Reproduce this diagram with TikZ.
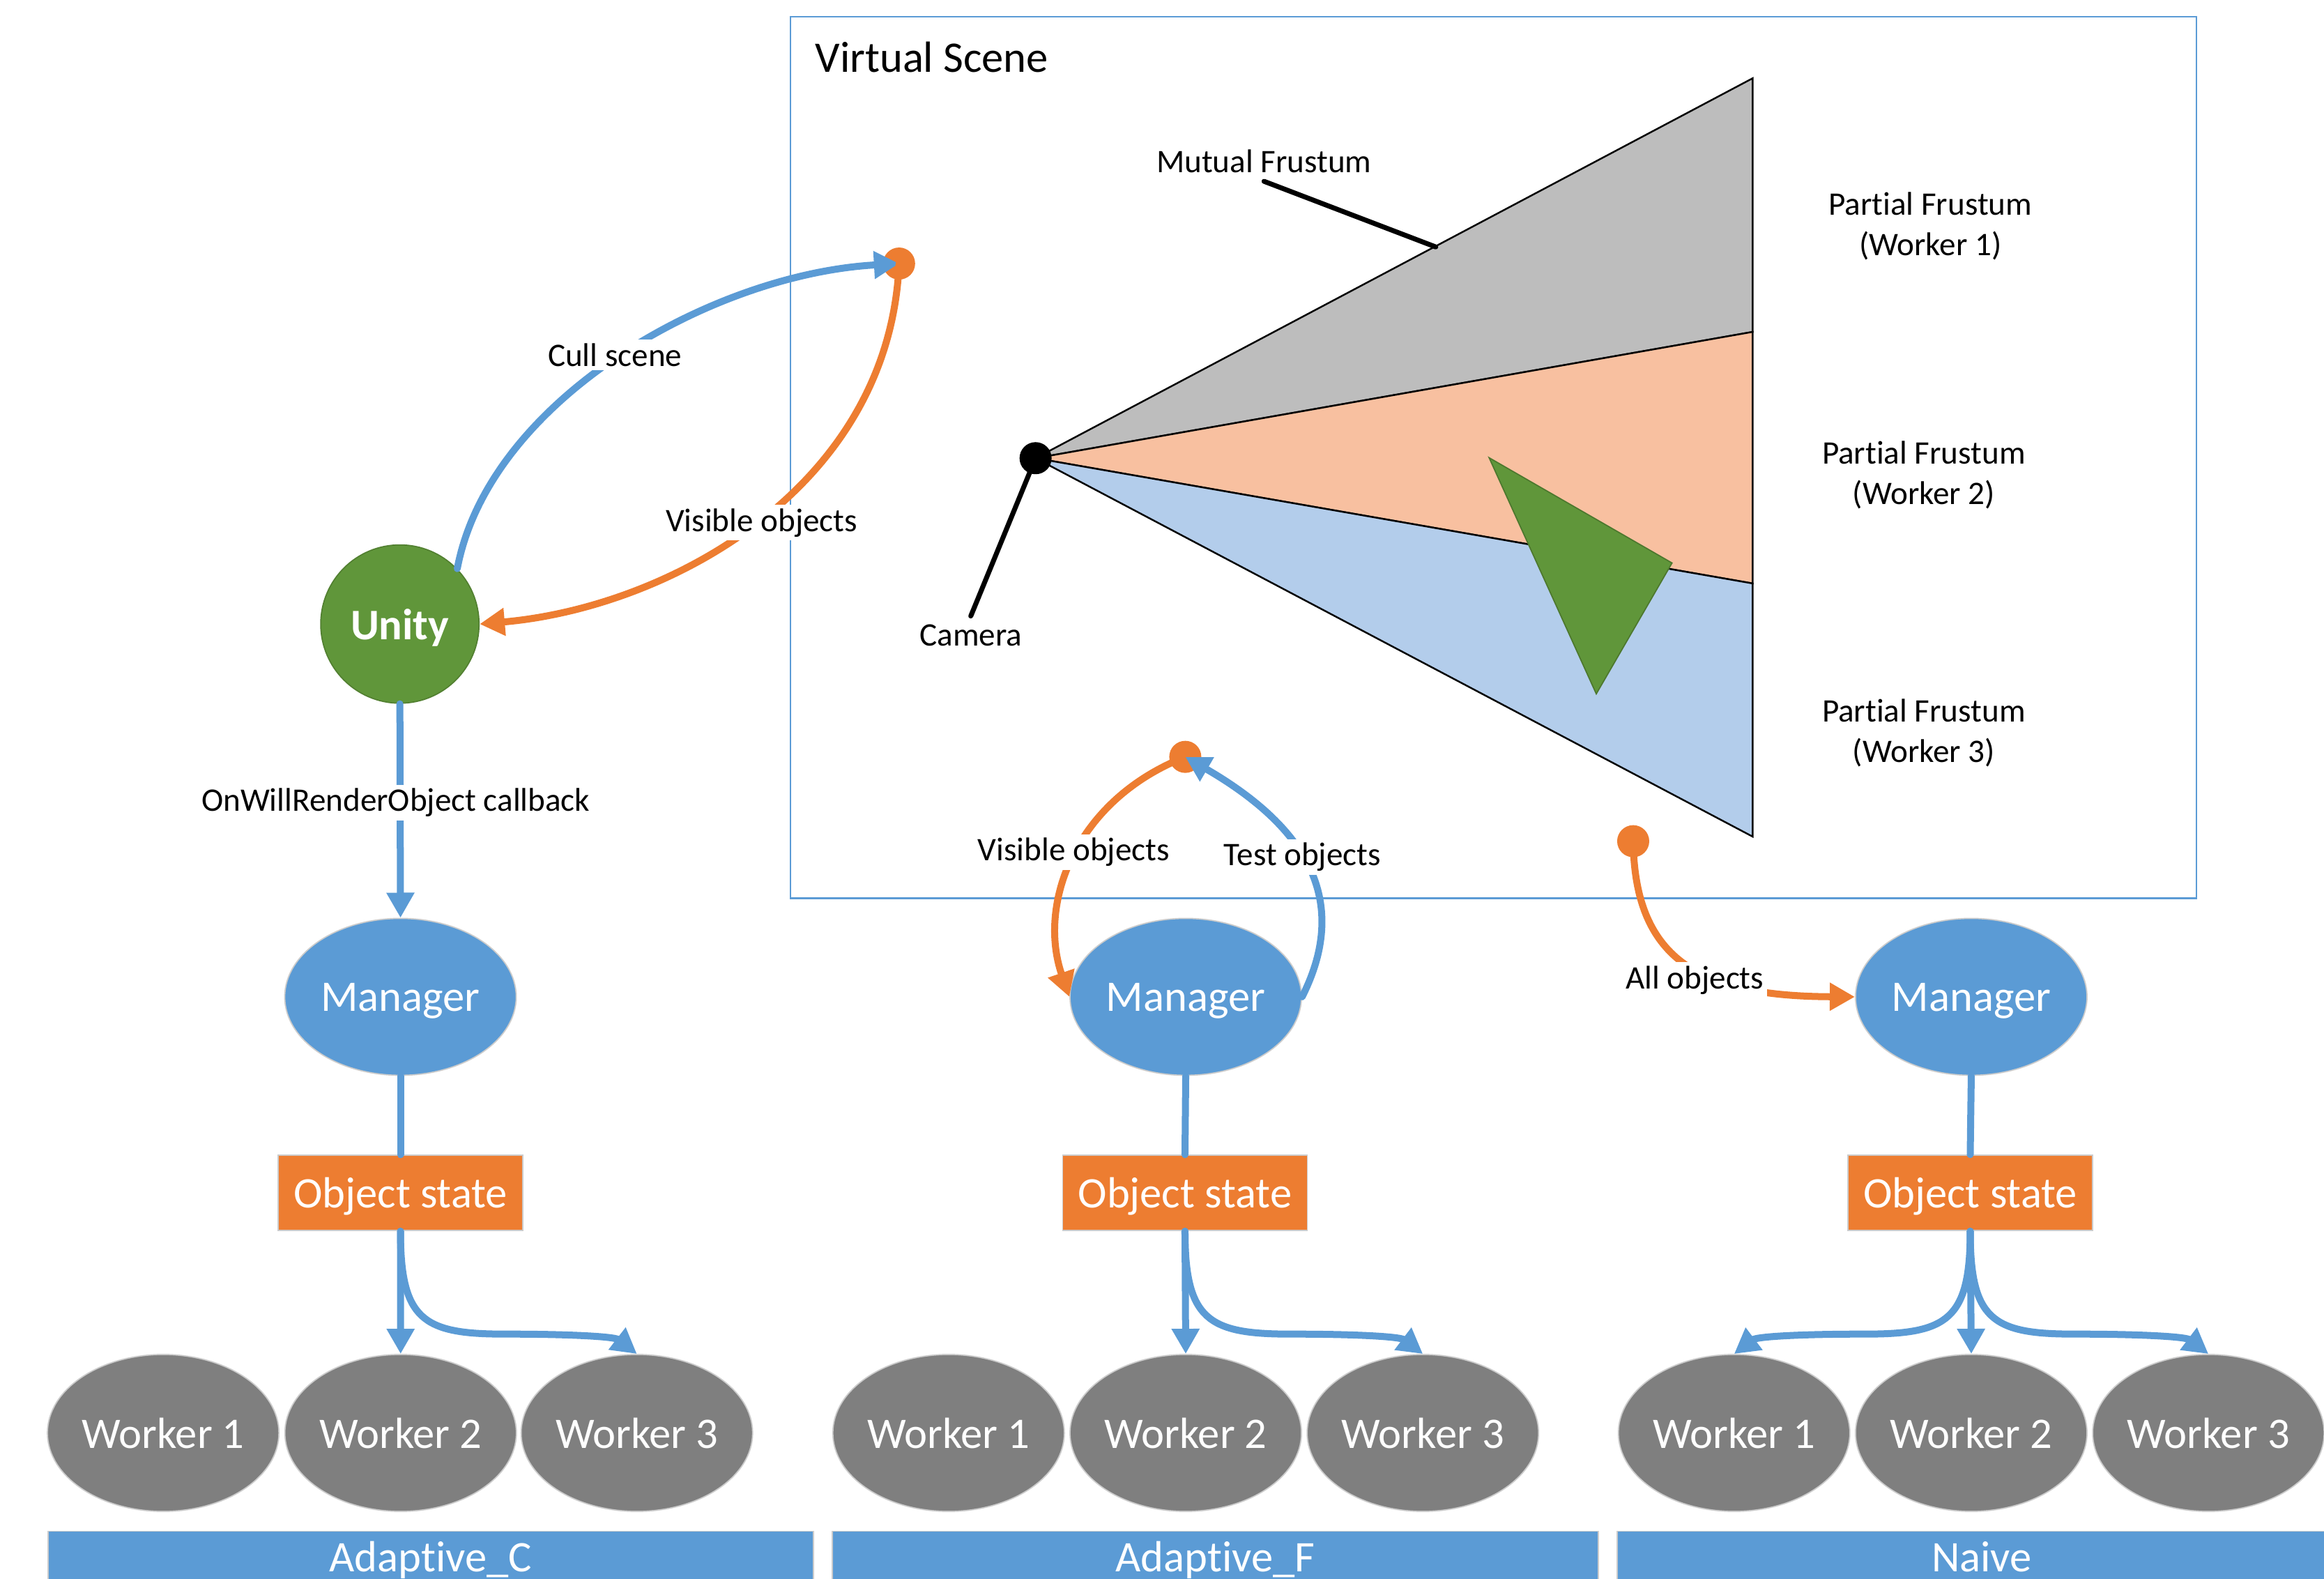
\documentclass[tikz,border=0pt]{standalone}
\usepackage{fontspec}
\setmainfont{Carlito}[Ligatures={NoCommon}]
\usetikzlibrary{shapes.geometric,arrows.meta}

\definecolor{msblue}{HTML}{5B9BD5}
\definecolor{msorange}{HTML}{ED7D31}
\definecolor{msgray}{HTML}{7F7F7F}
\definecolor{msgreen}{HTML}{60963A}
\definecolor{fgray}{HTML}{BDBDBD}
\definecolor{forange}{HTML}{F8C0A0}
\definecolor{fblue}{HTML}{B3CDEB}

\newcommand{\bigtext}{\fontsize{17.8}{21.4}\selectfont}
\newcommand{\smalltext}{\fontsize{13.4}{16.3}\selectfont}

\tikzset{
  manager/.style={ellipse, fill=msblue, draw=black!20, line width=0.5pt, text=white,
    font=\bigtext, minimum width=3.32cm, minimum height=2.25cm, inner sep=0pt, text depth=0pt},
  worker/.style={manager, fill=msgray},
  statebox/.style={rectangle, fill=msorange, draw=black!20, line width=0.5pt, text=white,
    font=\bigtext, minimum width=3.51cm, minimum height=1.08cm, inner sep=0pt, text depth=0pt},
  bar/.style={rectangle, fill=msblue, draw=black!20, line width=0.5pt, text=white,
    font=\bigtext, inner sep=0pt, text height=0.585cm, text depth=0.6cm, anchor=base},
  lbl/.style={font=\smalltext, fill=white, inner sep=1.5pt, anchor=base},
  flow/.style={draw=msblue, line width=0.1cm, line cap=round,
    -{Triangle[length=0.36cm,width=0.38cm]}},
  reply/.style={flow, draw=msorange},
  link/.style={draw=msblue, line width=0.1cm, line cap=round},
  leader/.style={line width=2pt, line cap=round},
  hit/.style={fill=msorange},
}

\begin{document}
\begin{tikzpicture}[x=0.021263cm, y=-0.021263cm]
    \useasboundingbox (0,0) rectangle (1568,1065);

    % Virtual scene box
    \draw[msblue, line width=0.6pt] (533.2,11.2) rectangle (1482,606);
    \node[font=\bigtext, anchor=base west, inner sep=0pt] (scene) at (549.7,48.9) {Virtual Scene};

    % Frustum split in three
    \coordinate (cam) at (698.7,309.1);
    \filldraw[fill=fgray, line width=0.7pt] (cam) -- (1182.5,52.8) -- (1182.5,223.9) -- cycle;
    \filldraw[fill=forange, line width=0.7pt] (cam) -- (1182.5,223.9) -- (1182.5,393.6) -- cycle;
    \filldraw[fill=fblue, line width=0.7pt] (cam) -- (1182.5,393.6) -- (1182.5,564.4) -- cycle;

    % Object in the scene
    \filldraw[fill=msgreen, draw=msgreen!80!black, line width=0.5pt]
        (1004.7,308.8) -- (1128.1,379.8) -- (1077,468.1) -- cycle;

    % Labels for frustum
    \node[font=\smalltext, anchor=base] (mutual) at (852.8,116.3) {Mutual Frustum};
    \coordinate (mutualtip) at (968.7,166.6);
    \draw[leader] (mutual.south) -- (mutualtip);
    \node[font=\smalltext, anchor=base] (camlbl) at (655,435.8) {Camera};
    \draw[leader] (cam) -- (camlbl.north);
    \fill (cam) circle (0.23cm);

    \node[font=\smalltext, align=center] (pf1) at (1302.4,152.6) {Partial Frustum\\(Worker 1)};
    \node[font=\smalltext, align=center] (pf2) at (1298,320.5) {Partial Frustum\\(Worker 2)};
    \node[font=\smalltext, align=center] (pf3) at (1298,494.5) {Partial Frustum\\(Worker 3)};

    % Hit points
    \coordinate (hitC) at (606.6,177.8);
    \coordinate (hitF) at (799.7,510.6);
    \coordinate (hitN) at (1101.9,567.5);
    \fill[hit] (hitC) circle (0.23cm);
    \fill[hit] (hitF) circle (0.23cm);
    \fill[hit] (hitN) circle (0.23cm);

    % Unity and managers
    \node[circle, fill=msgreen, draw=msgreen!85!black, line width=0.5pt, text=white, text depth=0pt,
        font=\bigtext\bfseries, minimum size=2.27cm, inner sep=0pt] (unity) at (269.8,421) {Unity};
    \node[manager] (mgrC) at (270.2,672.5) {Manager};
    \node[manager] (mgrF) at (800,672.5) {Manager};
    \node[manager] (mgrN) at (1330,672.5) {Manager};

    \node[statebox] (stateC) at (270.2,804.8) {Object state};
    \node[statebox] (stateF) at (799.5,804.8) {Object state};
    \node[statebox] (stateN) at (1329.3,804.8) {Object state};

    % Workers
    \node[worker] (wC1) at (110.1,966.7) {Worker 1};
    \node[worker] (wC2) at (270.3,966.7) {Worker 2};
    \node[worker] (wC3) at (429.7,966.7) {Worker 3};
    \node[worker] (wF1) at (640,966.7) {Worker 1};
    \node[worker] (wF2) at (800,966.7) {Worker 2};
    \node[worker] (wF3) at (960,966.7) {Worker 3};
    \node[worker] (wN1) at (1170,966.7) {Worker 1};
    \node[worker] (wN2) at (1330,966.7) {Worker 2};
    \node[worker] (wN3) at (1490,966.7) {Worker 3};

    % Bars with method names
    \node[bar, minimum width=10.98cm] (barC) at (290.6,1060.5) {Adaptive\_C};
    \node[bar, minimum width=10.98cm] (barF) at (820,1060.5) {Adaptive\_F};
    \node[bar, minimum width=10.46cm] (barN) at (1337,1060.5) {Naive};

    % Adaptive_C arrows
    \draw[flow] (unity.44) .. controls (330,270) and (480,185) .. (hitC);
    \draw[reply] (hitC) .. controls (600,330) and (450,410) .. (unity.east);
    \draw[flow] (unity.south) -- (mgrC.north);
    \draw[link] (mgrC.south) -- (stateC.north);
    \draw[flow] (stateC.south) -- (wC2.north);
    \draw[flow] (stateC.south) .. controls (270.2,890) and (285,900) .. (340,900)
        .. controls (390,900) and (415,902) .. (wC3.north);

    % Adaptive_F arrows
    \draw[reply] (hitF) .. controls (725,540) and (700,610) .. (mgrF.west);
    \draw[flow] (mgrF.east) .. controls (910,610) and (885,560) .. (hitF);
    \draw[link] (mgrF.south) -- (stateF.north);
    \draw[flow] (stateF.south) -- (wF2.north);
    \draw[flow] (stateF.south) .. controls (799.5,890) and (815,900) .. (870,900)
        .. controls (920,900) and (945,902) .. (wF3.north);

    % Naive arrows
    \draw[reply] (hitN) .. controls (1103,650) and (1150,672) .. (mgrN.west);
    \draw[link] (mgrN.south) -- (stateN.north);
    \draw[flow] (stateN.south) -- (wN2.north);
    \draw[flow] (stateN.south) .. controls (1329.3,890) and (1344,900) .. (1399,900)
        .. controls (1449,900) and (1475,902) .. (wN3.north);
    \draw[flow] (stateN.south) .. controls (1329.3,890) and (1314,900) .. (1259,900)
        .. controls (1209,900) and (1185,902) .. (wN1.north);

    % Labels on the arrows
    \node[lbl] (cull) at (414.9,247.1) {Cull scene};
    \node[lbl] (visC) at (513.9,358.4) {Visible objects};
    \node[lbl] (callback) at (267,547.4) {OnWillRenderObject callback};
    \node[lbl] (visF) at (724.4,580.8) {Visible objects};
    \node[lbl] (test) at (878.7,584) {Test objects};
    \node[lbl] (allobj) at (1143.4,667) {All objects};

\end{tikzpicture}
\end{document}
